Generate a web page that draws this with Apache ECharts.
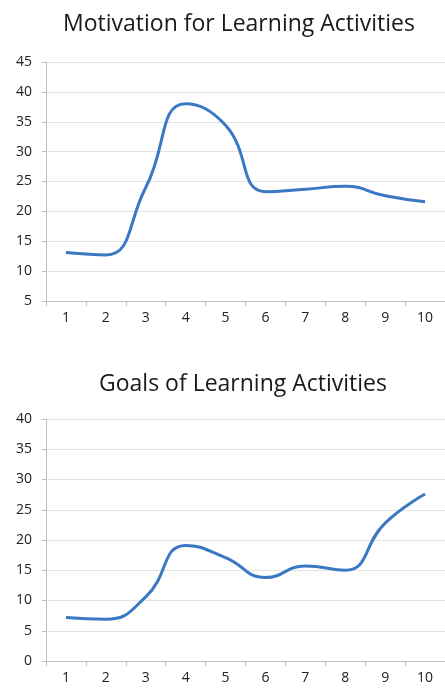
<!DOCTYPE html>
<html>
<head>
<meta charset="utf-8">
<script src="https://cdn.jsdelivr.net/npm/echarts@6/dist/echarts.min.js"></script>
<style>
	html, body { margin: 0; padding: 0; background: #fff; }
	#chart { width: 445px; height: 688px; }
</style>
</head>
<body>
<div id="chart"></div>
<script>
// 数据
var categories = ['1', '2', '3', '4', '5', '6', '7', '8', '9', '10'];
var motivation = [13.1, 12.7, 24, 38, 34.4, 23.3, 23.7, 24.2, 22.6, 21.6];
var goals = [7.2, 6.9, 10.6, 19.1, 17.1, 13.8, 15.7, 15.0, 22.8, 27.6];
var titles = ['Motivation for Learning Activities', 'Goals of Learning Activities'];

var font = '"Open Sans", "Noto Sans", sans-serif';
var lineColor = '#3b78c4';

function xAxisOf(idx) {
	return {
		type: 'category',
		gridIndex: idx,
		data: categories,
		boundaryGap: true,
		axisLine: { lineStyle: { color: '#bfbfbf', width: 1 } },
		axisTick: { show: true, length: 5, lineStyle: { color: '#bfbfbf' } },
		axisLabel: { color: '#222', fontSize: 14, fontFamily: font, margin: 10 }
	};
}
function yAxisOf(idx, min, max) {
	return {
		type: 'value',
		gridIndex: idx,
		min: min,
		max: max,
		interval: 5,
		axisLine: { show: true, lineStyle: { color: '#bfbfbf', width: 1 } },
		axisTick: { show: true, length: 4, lineStyle: { color: '#bfbfbf' } },
		axisLabel: { color: '#222', fontSize: 14, fontFamily: font, margin: 14 },
		splitLine: { lineStyle: { color: '#e3e3e3', width: 1 } }
	};
}

var myChart = echarts.init(document.getElementById('chart'));
var option = {
	animation: false,
	title: [{
		text: titles[0],
		left: 234,
		top: 8,
		textAlign: 'center',
		textStyle: { color: '#1a1a1a', fontSize: 23, fontWeight: 'normal', fontFamily: font }
	}, {
		text: titles[1],
		left: 238,
		top: 368,
		textAlign: 'center',
		textStyle: { color: '#1a1a1a', fontSize: 23, fontWeight: 'normal', fontFamily: font }
	}],
	grid: [
		{ left: 46, right: 0, top: 62, height: 239 },
		{ left: 46, right: 0, top: 419, height: 242 }
	],
	xAxis: [xAxisOf(0), xAxisOf(1)],
	yAxis: [yAxisOf(0, 5, 45), yAxisOf(1, 0, 40)],
	series: [{
		type: 'line',
		xAxisIndex: 0,
		yAxisIndex: 0,
		data: motivation,
		smooth: 0.5,
		showSymbol: false,
		lineStyle: { color: lineColor, width: 3 }
	}, {
		type: 'line',
		xAxisIndex: 1,
		yAxisIndex: 1,
		data: goals,
		smooth: 0.5,
		showSymbol: false,
		lineStyle: { color: lineColor, width: 3 }
	}]
};
myChart.setOption(option);
window.onresize = function () {
	myChart.resize();
}
</script>
</body>
</html>
